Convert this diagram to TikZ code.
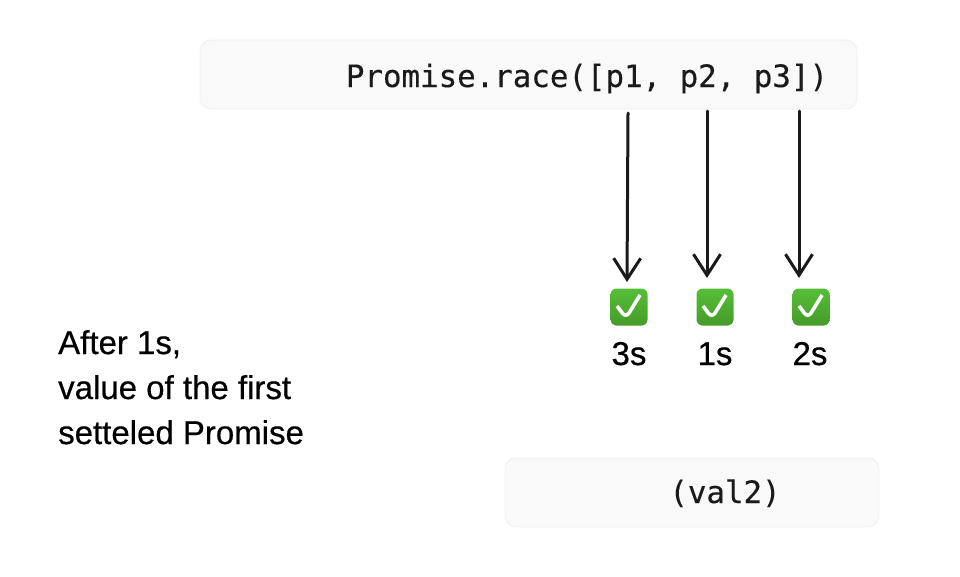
\documentclass[tikz,border=0pt]{standalone}
\usepackage{fontspec}
\usetikzlibrary{arrows.meta}
\newfontfamily\labelfont[FakeBold=0.5]{Liberation Sans}
\newfontfamily\codefont[FakeBold=0.3]{DejaVu Sans Mono}
\definecolor{code_bg}{RGB}{249,249,249}
\definecolor{code_line}{RGB}{240,240,240}
\definecolor{chk_top}{RGB}{86,190,56}
\definecolor{chk_bot}{RGB}{70,155,40}
\definecolor{ink}{RGB}{26,26,26}
\tikzset{
  codebox/.style={fill=code_bg,draw=code_line,line width=0.8pt,rounded corners=11pt},
  codetext/.style={font=\fontsize{30.8}{36}\codefont,text=ink,inner sep=0pt,anchor=base},
  labeltext/.style={font=\fontsize{33}{45}\labelfont,text=black,inner sep=0pt},
  chkbox/.style={minimum size=37pt,inner sep=0pt,rounded corners=6pt,top color=chk_top,bottom color=chk_bot,
    path picture={\draw[white,line width=3.6pt,line join=miter]
      ([shift={(-12pt,1pt)}]path picture bounding box.center)--([shift={(-3pt,-11pt)}]path picture bounding box.center)--([shift={(11pt,12pt)}]path picture bounding box.center);}},
  racearrow/.style={-{Straight Barb[length=21pt,width=27pt,line width=3pt]},line width=3pt,ink,line cap=round}
}
\begin{document}
\begin{tikzpicture}[x=1pt,y=-1pt]
  \useasboundingbox (0,0) rectangle (960,576);
  %code boxes
  \draw[codebox] (200,40) rectangle (857,109);
  \draw[codebox] (505,458) rectangle (879,527);
  \node[codetext] (racecode) at (587,87) {Promise.race([p1, p2, p3])};
  \node[codetext] (valcode) at (725,503) {(val2)};
  %check marks and times
  \node[chkbox] (chk3s) at (629,307) {};
  \node[chkbox] (chk1s) at (715,307) {};
  \node[chkbox] (chk2s) at (811,307) {};
  \node[labeltext,anchor=base] (time3s) at (629,365) {3s};
  \node[labeltext,anchor=base] (time1s) at (715,365) {1s};
  \node[labeltext,anchor=base] (time2s) at (810,365) {2s};
  %arrows
  \coordinate (startp1) at (628,113);
  \coordinate (startp2) at (707,111);
  \coordinate (startp3) at (799,111);
  \coordinate (endp1) at (627,282);
  \coordinate (endp2) at (707,278);
  \coordinate (endp3) at (799,278);
  \draw[racearrow] (startp1)--(endp1);
  \draw[racearrow] (startp2)--(endp2);
  \draw[racearrow] (startp3)--(endp3);
  %note
  \node[labeltext,align=left,anchor=base west] (note) at (58,444) {After 1s,\\value of the first\\setteled Promise};
\end{tikzpicture}
\end{document}
